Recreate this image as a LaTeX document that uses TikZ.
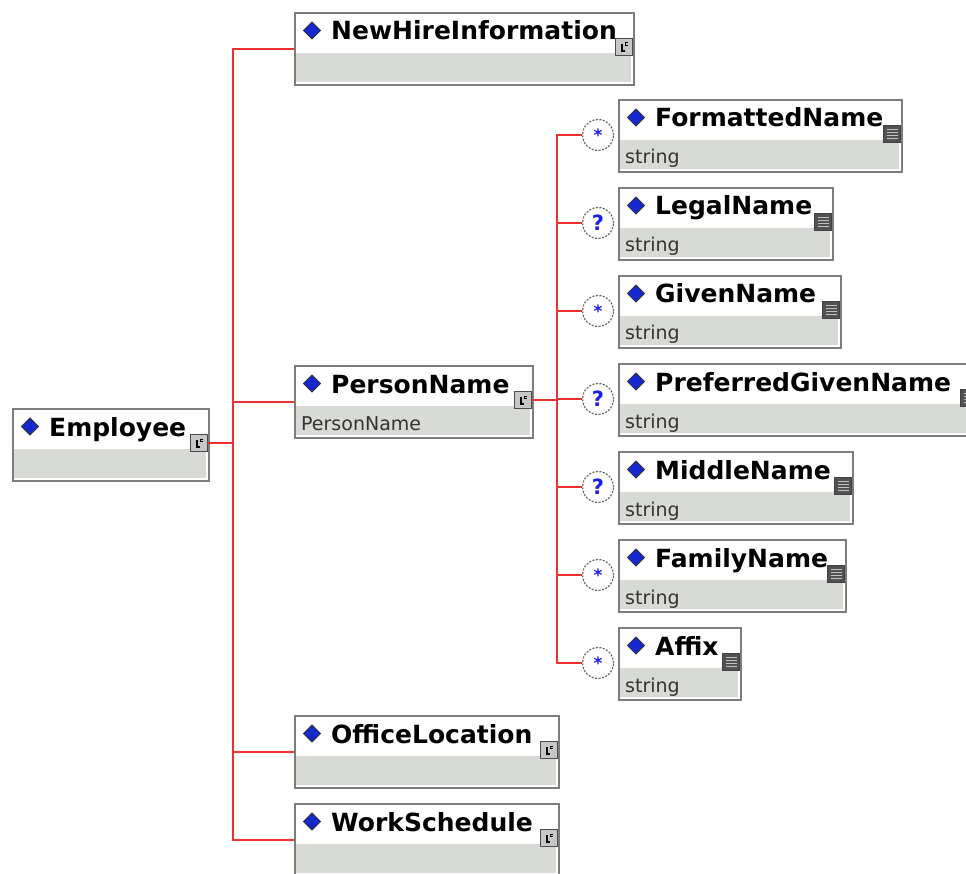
\documentclass[tikz,border=0pt]{standalone}
\usepackage{fontspec}
\setmainfont{DejaVu Sans}
\usetikzlibrary{positioning}

\definecolor{boxline}{RGB}{125,125,125}
\definecolor{typegray}{RGB}{216,218,214}
\definecolor{linkred}{RGB}{236,48,48}
\definecolor{markblue}{RGB}{20,40,205}
\definecolor{occblue}{RGB}{30,30,235}

\tikzset{
	elbox/.style={draw=boxline, line width=2pt, fill=white, anchor=north west, minimum height=72pt, inner sep=0pt},
	eltitle/.style={anchor=base west, inner sep=0pt, font=\fontsize{25}{28}\selectfont\bfseries},
	eltype/.style={anchor=base west, inner sep=0pt, text=black!80, font=\fontsize{19}{22}\selectfont},
	cxicon/.style={draw=black!70, fill=black!22, line width=1.2pt, minimum size=17pt, inner sep=0pt,
		path picture={
			\draw[black, line width=1.4pt] ([shift={(-2pt,3pt)}]path picture bounding box.center) -- ++(0,-7pt) -- ++(3pt,0pt);
			\draw[black, line width=1pt] ([shift={(3.5pt,4pt)}]path picture bounding box.center) -- ++(-2pt,0pt) -- ++(0pt,-2.5pt) -- ++(2pt,0pt);
		}},
	sticon/.style={draw=black!75, fill=black!68, line width=1pt, minimum size=17pt, inner sep=0pt,
		path picture={
			\foreach \k in {-4.5,-1.5,1.5,4.5}
				\draw[black!25, line width=1.2pt] ([shift={(3pt,\k pt)}]path picture bounding box.west) -- ([shift={(-3pt,\k pt)}]path picture bounding box.east);
		}},
	occ/.style={circle, draw=black!60, dash pattern=on 2pt off 1.5pt, line width=1.2pt, fill=white, minimum size=31pt, inner sep=0pt, text=occblue, font=\fontsize{21}{22}\selectfont\bfseries},
	link/.style={draw=linkred, line width=2pt},
}

\begin{document}
\begin{tikzpicture}[
		x=1pt,
		y=-1pt,
	]
	\useasboundingbox (0,0) rectangle (966,874);

	% element boxes
	\foreach \id/\x/\y/\w/\lbl/\typ/\ic in {
		employee/12/408/196/Employee//cxicon,
		newhire/294/12/339/NewHireInformation//cxicon,
		person/294/365/238/PersonName/PersonName/cxicon,
		office/294/715/264/OfficeLocation//cxicon,
		work/294/803/264/WorkSchedule//cxicon,
		fn/618/99/283/FormattedName/string/sticon,
		ln/618/187/214/LegalName/string/sticon,
		gn/618/275/222/GivenName/string/sticon,
		pgn/618/363/360/PreferredGivenName/string/sticon,
		mn/618/451/234/MiddleName/string/sticon,
		fam/618/539/227/FamilyName/string/sticon,
		affix/618/627/122/Affix/string/sticon}{
		\node[elbox, minimum width=\w pt] (\id) at (\x,\y) {};
		\fill[typegray] (\x+2,\y+41) rectangle (\x+\w-2,\y+70);
		\filldraw[fill=markblue, draw=black!80, line width=0.8pt] (\x+18,\y+10) -- (\x+26.5,\y+18.5) -- (\x+18,\y+27) -- (\x+9.5,\y+18.5) -- cycle;
		\node[eltitle] (\id-title) at (\x+37,\y+28) {\lbl};
		\node[eltype] (\id-type) at (\x+7,\y+65) {\typ};
		\node[\ic] (\id-icon) at (\x+\w-9,\y+35) {};
	}

	% occurrence marks
	\foreach \id/\y/\o in {fn/99/{\raisebox{-5pt}{\fontsize{17}{17}\selectfont*}}, ln/187/?, gn/275/{\raisebox{-5pt}{\fontsize{17}{17}\selectfont*}}, pgn/363/?, mn/451/?, fam/539/{\raisebox{-5pt}{\fontsize{17}{17}\selectfont*}}, affix/627/{\raisebox{-5pt}{\fontsize{17}{17}\selectfont*}}}{
		\node[occ] (\id-occ) at (598,\y+36) {\o};
	}

	% connectors
	\coordinate (trunk) at (233,443);
	\coordinate (branch) at (557,400);
	\draw[link] (employee-icon.east) -- (trunk);
	\foreach \c in {newhire,person,office,work}
		\draw[link] (trunk) |- (\c.west);
	\draw[link] (person-icon.east) -- (branch);
	\foreach \c in {fn,ln,gn,pgn,mn,fam,affix}
		\draw[link] (branch) |- (\c-occ.west);
\end{tikzpicture}
\end{document}
